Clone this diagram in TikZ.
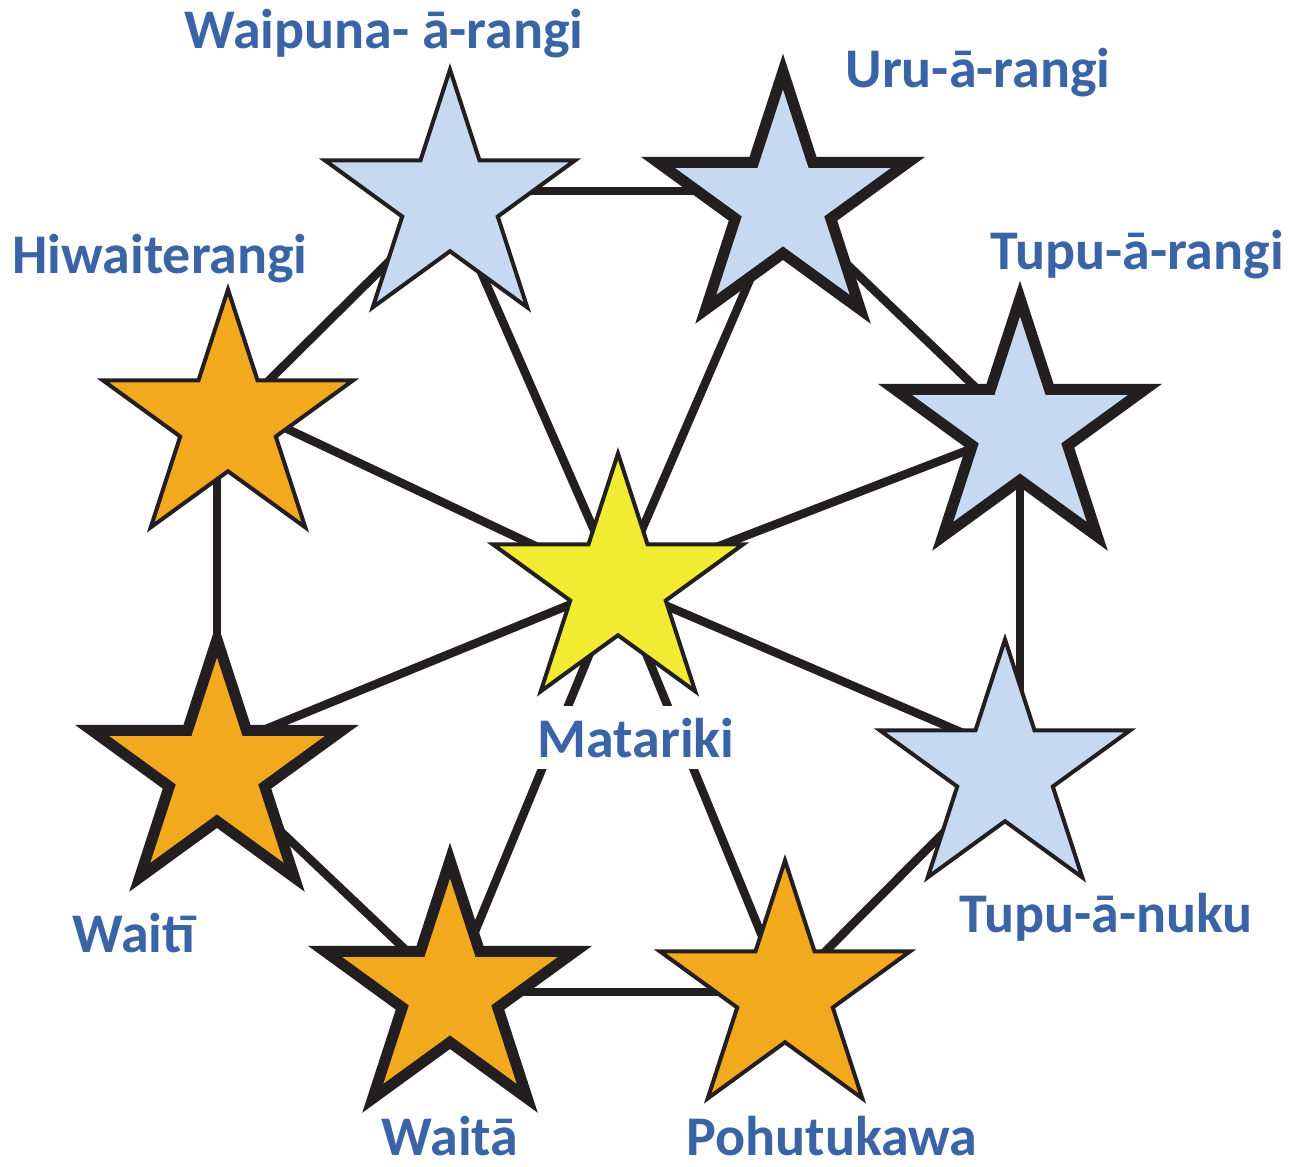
\documentclass[tikz,border=0pt]{standalone}
\usepackage{fontspec}
\setmainfont{Carlito}
\usetikzlibrary{shapes.geometric,backgrounds}
\definecolor{lblue}{RGB}{58,100,166}
\definecolor{starblue}{RGB}{198,217,240}
\definecolor{starorange}{RGB}{242,169,30}
\definecolor{staryellow}{RGB}{241,235,50}
\definecolor{ink}{RGB}{35,31,32}
\begin{document}
\begin{tikzpicture}[x=1pt,y=-1pt,
  starbase/.style={star, star points=5, star point ratio=2.618, minimum size=263pt, inner sep=0pt, draw=ink, line join=miter},
  thinstar/.style={starbase, line width=4pt},
  thickstar/.style={starbase, line width=11pt},
  bluestar/.style={fill=starblue},
  orangestar/.style={fill=starorange},
  yellowstar/.style={fill=staryellow},
  conn/.style={draw=ink, line width=8.5pt},
  lbl/.style={text=lblue, font=\fontsize{56}{60}\selectfont\bfseries, anchor=base, inner sep=0pt}]
\useasboundingbox (0,0) rectangle (1299,1167);

% stars
\node[thinstar, yellowstar] (mat) at (618,585) {};
\node[thinstar, bluestar] (wpr) at (450,201) {};
\node[thickstar, bluestar] (uru) at (783,203) {};
\node[thickstar, bluestar] (tar) at (1020,430) {};
\node[thinstar, bluestar] (tan) at (1005,771) {};
\node[thinstar, orangestar] (poh) at (785,992) {};
\node[thickstar, orangestar] (wta) at (450,992) {};
\node[thickstar, orangestar] (wti) at (217,771) {};
\node[thinstar, orangestar] (hiw) at (228,421) {};

% connectors behind the stars
\begin{scope}[on background layer]
  \fill[white] (0,0) rectangle (1299,1167);
  \draw[conn] (mat.center) -- (wpr.center);
  \draw[conn] (mat.center) -- (uru.center);
  \draw[conn] (mat.center) -- (tar.center);
  \draw[conn] (mat.center) -- ([yshift=20pt]tan.center);
  \draw[conn] (mat.center) -- (poh.center);
  \draw[conn] (mat.center) -- (wta.center);
  \draw[conn] (mat.center) -- ([yshift=22pt]wti.center);
  \draw[conn] (mat.center) -- ([yshift=20pt]hiw.center);
  \draw[conn] (hiw.center) -- (wpr.center);
  \draw[conn] ([yshift=10pt]wpr.center) -- ([yshift=10pt]wpr.center -| uru.center);
  \draw[conn] (uru.center) -- (tar.center);
  \draw[conn] (tar.center) -- (tar.center |- tan.center);
  \draw[conn] (tan.center) -- (poh.center);
  \draw[conn] (poh.center) -- (wta.center);
  \draw[conn] (wta.center) -- (wti.center);
  \draw[conn] (wti.center) -- (wti.center |- hiw.center);
\end{scope}

% labels
\node[lbl] (lwpr) at (384,48) {Waipuna- ā-rangi};
\node[lbl] (luru) at (978,87) {Uru-ā-rangi};
\node[lbl] (lhiw) at (160,273) {Hiwaiterangi};
\node[lbl] (ltar) at (1137,269) {Tupu-ā-rangi};
\node[lbl, fill=white, inner xsep=3pt, inner ysep=12pt] (lmat) at (636,757) {Matariki};
\node[lbl] (ltan) at (1106,932) {Tupu-ā-nuku};
\node[lbl] (lwti) at (134,952) {Waitī};
\node[lbl] (lwta) at (450,1155) {Waitā};
\node[lbl] (lpoh) at (832,1155) {Pohutukawa};
\end{tikzpicture}
\end{document}
